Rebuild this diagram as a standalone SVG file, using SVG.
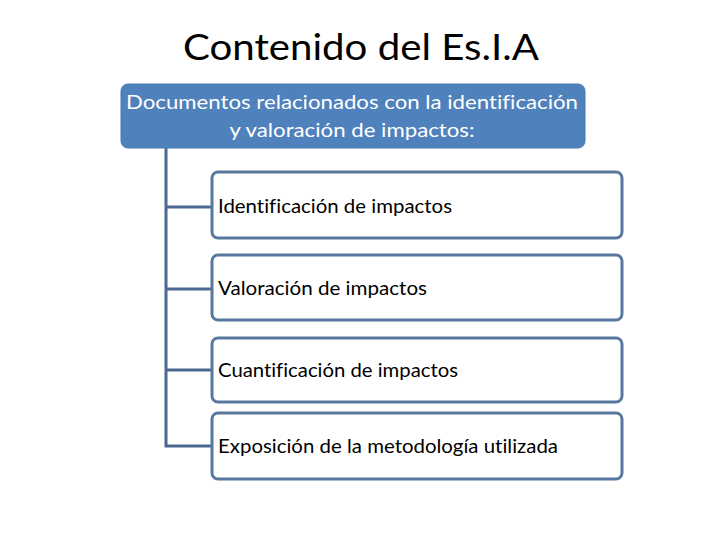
<svg xmlns="http://www.w3.org/2000/svg" width="720" height="540" viewBox="0 0 720 540">
<style>
text{font-family:Lato,"Liberation Sans","Noto Sans",Arial,sans-serif;font-variant-ligatures:none}
.title{font-size:37px;fill:#000}
.head{font-size:20px;fill:#fff}
.item{font-size:19px;fill:#000}
.box{fill:#fff;stroke:#5878A0;stroke-width:3}
.conn{fill:none;stroke:#4A6890;stroke-width:3}
</style>
<rect width="720" height="540" fill="#fff"/>
<text class="title" x="361" y="60" text-anchor="middle" textLength="356" lengthAdjust="spacingAndGlyphs">Contenido del Es.I.A</text>
<g id="connectors">
<path class="conn" d="M166 148V446H212M166 207H212M166 289H212M166 370H212"/>
</g>
<g id="root">
<rect x="121" y="84" width="464" height="64" rx="7" fill="#4F81BD" stroke="#4A78B0" stroke-width="1"/>
<text class="head" x="352" y="109" text-anchor="middle" textLength="452" lengthAdjust="spacingAndGlyphs">Documentos relacionados con la identificación</text>
<text class="head" x="352" y="137" text-anchor="middle" textLength="245" lengthAdjust="spacingAndGlyphs">y valoración de impactos:</text>
</g>
<g id="n1">
<rect class="box" x="212" y="172" width="410" height="66" rx="6"/>
<text class="item" x="218" y="213" textLength="234" lengthAdjust="spacingAndGlyphs">Identificación de impactos</text>
</g>
<g id="n2">
<rect class="box" x="212" y="255" width="410" height="65" rx="6"/>
<text class="item" x="218" y="295" textLength="209" lengthAdjust="spacingAndGlyphs">Valoración de impactos</text>
</g>
<g id="n3">
<rect class="box" x="212" y="338" width="410" height="64" rx="6"/>
<text class="item" x="218" y="377" textLength="240" lengthAdjust="spacingAndGlyphs">Cuantificación de impactos</text>
</g>
<g id="n4">
<rect class="box" x="212" y="413" width="410" height="66" rx="6"/>
<text class="item" x="218" y="453" textLength="340" lengthAdjust="spacingAndGlyphs">Exposición de la metodología utilizada</text>
</g>
</svg>
